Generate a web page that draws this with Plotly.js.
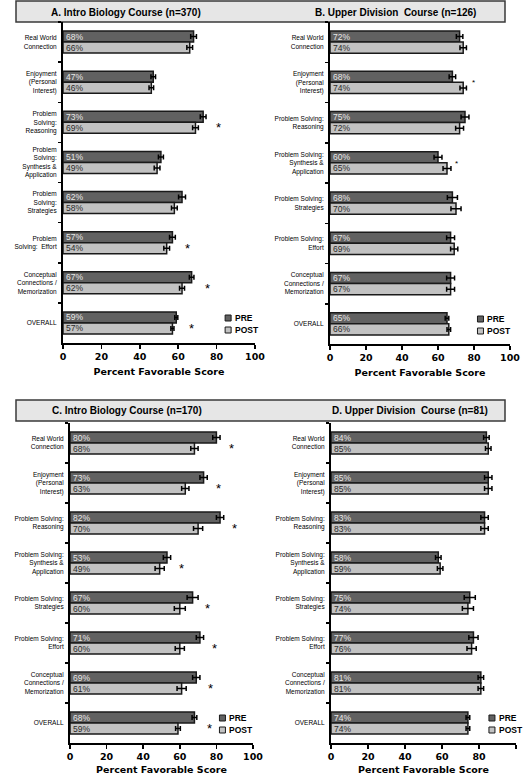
<!DOCTYPE html>
<html><head><meta charset="utf-8">
<script src="https://cdn.plot.ly/plotly-3.0.1.min.js"></script>
<style>html,body{margin:0;padding:0;background:#fff}#chart{width:525px;height:775px}</style>
</head><body><div id="chart"></div>
<script>
// ---------- DATA ----------
const catsA = ["Real World<br>Connection","Enjoyment<br>(Personal<br>Interest)","Problem<br>Solving:<br>Reasoning","Problem<br>Solving:<br>Synthesis &amp;<br>Application","Problem<br>Solving:<br>Strategies","Problem<br>Solving:  Effort","Conceptual<br>Connections /<br>Memorization","OVERALL"];
const catsB = ["Real World<br>Connection","Enjoyment<br>(Personal<br>Interest)","Problem Solving:<br>Reasoning","Problem Solving:<br>Synthesis &amp;<br>Application","Problem Solving:<br>Strategies","Problem Solving:<br>Effort","Conceptual<br>Connections /<br>Memorization","OVERALL"];
const titleA = "A. Intro Biology Course (n=370)";
const titleB = "B. Upper Division  Course (n=126)";
const titleC = "C. Intro Biology Course (n=170)";
const titleD = "D. Upper Division  Course (n=81)";
const seriesNames = ["PRE", "POST"];
const xTickVals = [0, 20, 40, 60, 80, 100];
const xTitle = "Percent Favorable Score";

const preA  = [68, 47, 73, 51, 62, 57, 67, 59];
const postA = [66, 46, 69, 49, 58, 54, 62, 57];
const preErrA  = [1.5, 1.2, 1.5, 1.3, 1.8, 1.5, 1.2, 0.8];
const postErrA = [1.5, 1.2, 1.5, 1.5, 1.5, 1.5, 1.3, 0.8];
const sigA = [0, 0, 1, 0, 0, 1, 1, 1];

const preB  = [72, 68, 75, 60, 68, 67, 67, 65];
const postB = [74, 74, 72, 65, 70, 69, 67, 66];
const preErrB  = [1.8, 1.8, 2.2, 2.2, 2.8, 2.2, 2.2, 1.0];
const postErrB = [1.8, 1.8, 2.2, 2.2, 2.8, 2.0, 2.2, 1.0];
const sigB = [0, 1, 0, 1, 0, 0, 0, 0];

const preC  = [80, 73, 82, 53, 67, 71, 69, 68];
const postC = [68, 63, 70, 49, 60, 60, 61, 59];
const preErrC  = [2.0, 2.0, 2.0, 2.0, 3.0, 2.0, 2.0, 1.3];
const postErrC = [2.0, 2.0, 2.5, 2.5, 3.0, 2.5, 2.5, 1.3];
const sigC = [1, 1, 1, 1, 1, 1, 1, 1];

const preD  = [84, 85, 83, 58, 75, 77, 81, 74];
const postD = [85, 85, 83, 59, 74, 76, 81, 74];
const preErrD  = [1.5, 2.0, 2.0, 1.5, 3.0, 2.5, 1.5, 1.0];
const postErrD = [1.5, 2.0, 2.0, 1.5, 3.0, 2.5, 1.5, 1.0];
const sigD = [0, 0, 0, 0, 0, 0, 0, 0];

// ---------- STYLE / LAYOUT ----------
const W = 525, H = 775;
const px = v => v / W, py = v => 1 - v / H;
const colPre = "#616161", colPost = "#c2c2c2";

const panels = [
  {cats: catsA, pre: preA, post: postA, ePre: preErrA, ePost: postErrA, sig: sigA,
   box: [63, 255, 22, 343], starSize: 13, starOff: 8, starDy: 0.06, leg: [0.86]},
  {cats: catsB, pre: preB, post: postB, ePre: preErrB, ePost: postErrB, sig: sigB,
   box: [330, 510, 22, 344], starSize: 8, starOff: 5.5, starDy: -0.06, leg: [0.836]},
  {cats: catsB, pre: preC, post: postC, ePre: preErrC, ePost: postErrC, sig: sigC,
   box: [70, 253, 423, 743], starSize: 13, starOff: 8, starDy: 0.06, leg: [0.833]},
  {cats: catsB, pre: preD, post: postD, ePre: preErrD, ePost: postErrD, sig: sigD,
   box: [331, 516, 423, 743], starSize: 13, starOff: 8, starDy: 0.06, leg: [0.87]}
];

const titles = [
  {text: titleA, x: 126, y: 12},
  {text: titleB, x: 395, y: 12},
  {text: titleC, x: 127, y: 411},
  {text: titleD, x: 410, y: 411}
];

const traces = [];
const layout = {
  width: W, height: H, margin: {l: 0, r: 0, t: 0, b: 0},
  paper_bgcolor: "#fff", plot_bgcolor: "rgba(0,0,0,0)",
  showlegend: false, barmode: "group", bargap: 0.45, bargroupgap: 0,
  annotations: [], shapes: []
};

const boldFont = {family: "DejaVu Sans, Verdana, sans-serif", size: 9.5, color: "#000", weight: "bold"};

// title boxes
[[16, 505, 1, 22], [16, 505, 400, 421]].forEach(b => {
  layout.shapes.push({type: "rect", xref: "paper", yref: "paper",
    x0: px(b[0]), x1: px(b[1]), y0: py(b[3]), y1: py(b[2]),
    fillcolor: "#e6e6e6", line: {color: "#3a3a3a", width: 1.5}, layer: "below"});
});
titles.forEach(t => {
  layout.annotations.push({text: t.text, xref: "paper", yref: "paper", x: px(t.x), y: py(t.y),
    xanchor: "center", yanchor: "middle", showarrow: false,
    font: {family: "Liberation Sans, Arial, sans-serif", size: 10, color: "#000", weight: "bold"}});
});

panels.forEach((p, i) => {
  const s = i === 0 ? "" : String(i + 1);
  const xa = "x" + s, ya = "y" + s;
  const [x0, x1, yT, yB] = p.box;
  const n = p.cats.length;
  const mk = (vals, errs, color, txtColor, name) => ({
    type: "bar", orientation: "h", name: name, x: vals, y: p.cats,
    xaxis: xa, yaxis: ya,
    marker: {color: color, line: {color: "#1a1a1a", width: 1.5}},
    text: vals.map(v => v + "%"), textposition: "inside", insidetextanchor: "start",
    textangle: 0, constraintext: "none",
    textfont: {family: "Liberation Sans, Arial, sans-serif", size: 8.5, color: txtColor},
    error_x: {type: "data", array: errs, visible: true, color: "#000", thickness: 1.5, width: 2.5},
    hoverinfo: "skip"
  });
  traces.push(mk(p.pre, p.ePre, colPre, "#e8e8e8", seriesNames[0]));
  traces.push(mk(p.post, p.ePost, colPost, "#2a2a2a", seriesNames[1]));

  layout["xaxis" + s] = {
    domain: [px(x0), px(x1)], anchor: ya, range: [0, 100],
    tickvals: xTickVals, ticks: "outside", ticklen: 4, tickwidth: 1.5, tickcolor: "#000",
    showline: true, linewidth: 2, linecolor: "#000", showgrid: false, zeroline: false,
    tickfont: boldFont, fixedrange: true,
    title: {text: xTitle, font: boldFont, standoff: 7}
  };
  layout["yaxis" + s] = {
    domain: [py(yB), py(yT)], anchor: xa, type: "category",
    range: [n - 0.5, -0.5], ticks: "outside", tickson: "boundaries", ticklen: 3,
    tickwidth: 1.5, tickcolor: "#000", ticklabelstandoff: 3,
    showline: true, linewidth: 2, linecolor: "#000", showgrid: false, zeroline: false,
    tickfont: {family: "Liberation Sans, Arial, sans-serif", size: 6.5, color: "#000"},
    fixedrange: true
  };

  // significance asterisks
  p.sig.forEach((flag, k) => {
    if (!flag) return;
    const xv = Math.max(p.pre[k], p.post[k]) + p.starOff;
    layout.annotations.push({text: "*", xref: xa, yref: ya, x: xv, y: k + p.starDy,
      showarrow: false, xanchor: "center", yanchor: "middle", yshift: -3,
      font: {family: "Liberation Sans, Arial, sans-serif", size: p.starSize, color: "#000"}});
  });

  // legend (PRE / POST)
  const legY = [yB - 25, yB - 13];
  [colPre, colPost].forEach((c, k) => {
    const cx = x0 + p.leg[0] * (x1 - x0);
    layout.shapes.push({type: "rect", xref: "paper", yref: "paper",
      x0: px(cx - 3), x1: px(cx + 3), y0: py(legY[k] + 3), y1: py(legY[k] - 3),
      fillcolor: c, line: {color: "#1a1a1a", width: 1}});
    layout.annotations.push({text: seriesNames[k], xref: "paper", yref: "paper",
      x: px(cx + 5), y: py(legY[k]), xanchor: "left", yanchor: "middle", showarrow: false,
      font: {family: "Liberation Sans, Arial, sans-serif", size: 8.5, color: "#000", weight: "bold"}});
  });
});

Plotly.newPlot("chart", traces, layout, {staticPlot: true, displayModeBar: false});
</script>
</body></html>
